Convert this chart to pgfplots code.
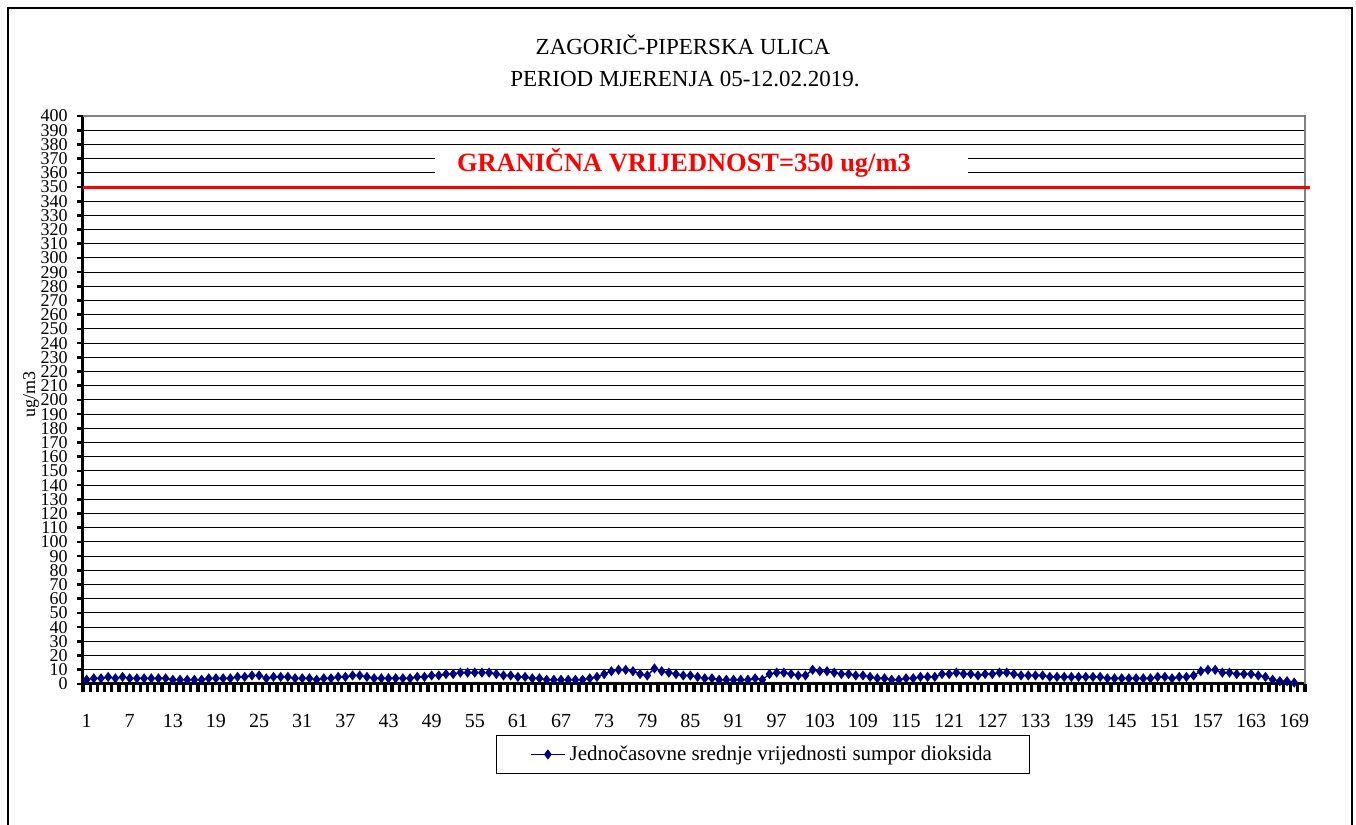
\documentclass[border=0pt]{standalone}
\usepackage{pgfplots}
\pgfplotsset{compat=1.18}
\usepackage{pgfplotstable}
\usepackage{fontspec}
\setmainfont{Liberation Serif}
\definecolor{navy}{HTML}{000080}

\pgfplotstableread{
x y
1 3
2 4
3 4
4 5
5 4
6 5
7 4
8 4
9 4
10 4
11 4
12 4
13 3
14 3
15 3
16 3
17 3
18 4
19 4
20 4
21 4
22 5
23 5
24 6
25 6
26 4
27 5
28 5
29 5
30 4
31 4
32 4
33 3
34 4
35 4
36 5
37 5
38 6
39 6
40 5
41 4
42 4
43 4
44 4
45 4
46 4
47 5
48 5
49 6
50 6
51 7
52 7
53 8
54 8
55 8
56 8
57 8
58 7
59 6
60 6
61 5
62 5
63 4
64 4
65 3
66 3
67 3
68 3
69 3
70 3
71 4
72 5
73 7
74 9
75 10
76 10
77 9
78 7
79 6
80 11
81 9
82 8
83 7
84 6
85 6
86 5
87 4
88 4
89 3
90 3
91 3
92 3
93 3
94 4
95 3
96 7
97 8
98 8
99 7
100 6
101 6
102 10
103 9
104 9
105 8
106 7
107 7
108 6
109 6
110 5
111 4
112 4
113 3
114 3
115 4
116 4
117 5
118 5
119 5
120 7
121 7
122 8
123 7
124 7
125 6
126 7
127 7
128 8
129 8
130 7
131 6
132 6
133 6
134 6
135 5
136 5
137 5
138 5
139 5
140 5
141 5
142 5
143 4
144 4
145 4
146 4
147 4
148 4
149 4
150 5
151 5
152 4
153 5
154 5
155 6
156 9
157 10
158 10
159 8
160 8
161 7
162 7
163 7
164 6
165 5
166 3
167 2
168 2
169 1
}\sotwo

\begin{document}
\begin{tikzpicture}
\useasboundingbox (0,0) rectangle (678pt,412.5pt);
% outer frame
\draw[line width=1.3pt] (4pt,0pt) -- (4pt,408.5pt) -- (676pt,408.5pt) -- (676pt,0pt);
% titles
\node[anchor=base, font=\fontsize{11.5}{13}\selectfont] at (341.5pt,385pt) {ZAGORIČ-PIPERSKA ULICA};
\node[anchor=base, font=\fontsize{11.5}{13}\selectfont] at (342.5pt,369pt) {PERIOD MJERENJA 05-12.02.2019.};
% y label
\node[rotate=90, font=\fontsize{9}{11}\selectfont] at (15.5pt,215pt) {ug/m3};
\begin{axis}[
  at={(41.5pt,70.5pt)}, anchor=south west,
  scale only axis, width=611pt, height=284pt,
  xmin=0.5, xmax=170.5, ymin=0, ymax=400,
  axis lines*=left,
  axis line style={line width=1.5pt, black},
  clip=false,
  ytick={0,10,...,400},
  yticklabel style={font=\fontsize{9}{9}\selectfont, inner sep=1pt, xshift=-3.5pt},
  xtick={1,7,...,169},
  minor xtick={0.5,1.5,...,170.5},
  xticklabel style={font=\fontsize{10}{10}\selectfont, yshift=-8.5pt},
  /pgf/number format/assume math mode=true,
  tick align=outside,
  major tick length=3pt,
  minor tick length=4pt,
  every tick/.style={black, line width=1.3pt},
  every major x tick/.style={draw=none},
  every minor x tick/.style={black, line width=1.6pt},
  ymajorgrids,
  major grid style={black, line width=0.5pt},
  legend style={at={(0.5565,-0.124)}, anchor=center, draw=black, line width=0.5pt,
    font=\fontsize{10.5}{12}\selectfont, inner xsep=17pt, inner ysep=3pt},
  legend cell align=left,
]
\draw[gray, line width=0.8pt] (rel axis cs:0,1) -- (rel axis cs:1,1) -- (rel axis cs:1,0);
\fill[white] (axis cs:49.5,355) rectangle (axis cs:123.6,377);
\node[text=red, font=\bfseries\fontsize{13.2}{15}\selectfont] at (axis cs:84.1,367) {GRANIČNA VRIJEDNOST=350 ug/m3};
\addplot[red, line width=1.5pt, forget plot] coordinates {(0.5,350) (171.2,350)};
\addplot[navy, line width=0.7pt, mark=diamond*, mark size=2pt, mark options={solid, fill=navy}] table[x=x, y=y] {\sotwo};
\addlegendentry{Jednočasovne srednje vrijednosti sumpor dioksida}
\end{axis}
\end{tikzpicture}
\end{document}
